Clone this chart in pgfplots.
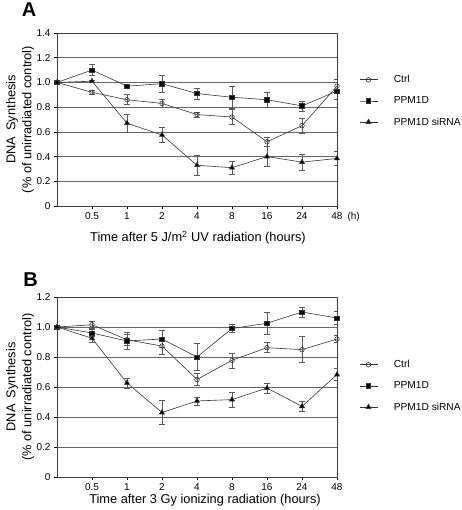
\documentclass[border=0pt]{standalone}
\usepackage{pgfplots}
\pgfplotsset{compat=1.18}
\usepackage{pgfplotstable}
\usepackage{fontspec}
\setmainfont{Liberation Sans}

\pgfplotstableread{
x y e
0 1.00 0
1 0.92 0.02
2 0.86 0.04
3 0.83 0.03
4 0.74 0.02
5 0.72 0.06
6 0.52 0.04
7 0.65 0.06
8 0.97 0.055
}\actrl
\pgfplotstableread{
x y e
0 1.00 0
1 1.10 0.043
2 0.97 0.016
3 0.99 0.07
4 0.91 0.045
5 0.88 0.09
6 0.86 0.06
7 0.81 0.04
8 0.93 0.07
}\appm
\pgfplotstableread{
x y e
0 1.00 0
1 1.01 0.01
2 0.67 0.07
3 0.575 0.06
4 0.33 0.08
5 0.31 0.05
6 0.40 0.08
7 0.355 0.065
8 0.385 0.058
}\asi
\pgfplotstableread{
x y e
0 1.00 0
1 1.015 0.022
2 0.915 0.035
3 0.873 0.055
4 0.65 0.04
5 0.778 0.05
6 0.862 0.033
7 0.849 0.087
8 0.92 0.025
}\bctrl
\pgfplotstableread{
x y e
0 1.00 0
1 0.96 0.022
2 0.907 0.055
3 0.92 0.055
4 0.80 0.09
5 0.99 0.025
6 1.025 0.072
7 1.10 0.033
8 1.06 0.045
}\bppm
\pgfplotstableread{
x y e
0 1.00 0
1 0.925 0.028
2 0.627 0.033
3 0.43 0.08
4 0.507 0.027
5 0.516 0.05
6 0.593 0.033
7 0.471 0.033
8 0.683 0.04
}\bsi

\newcommand{\labfont}{\fontsize{12.8bp}{16bp}\selectfont}
\pgfplotsset{
  panel/.style={
    scale only axis, width=280bp,
    xmin=0, xmax=8,
    xtick={1,2,3,4,5,6,7,8},
    tick align=outside, xtick pos=bottom, ytick pos=left,
    major tick length=3bp,
    tick style={black, line width=0.6bp},
    axis line style={black!75, line width=0.6bp},
    ymajorgrids, grid style={black!60, line width=0.6bp},
    /pgf/number format/assume math mode=true,
    tick label style={font=\fontsize{10bp}{12bp}\selectfont},
    every axis y label/.style={at={(rel axis cs:0,0.5)}, xshift=-37bp, rotate=90, anchor=center, align=center, font=\labfont},
    ylabel={DNA\enspace Synthesis\\(\% of unirradiated control)},
    legend cell align=left,
    legend style={draw=none, fill=none, inner sep=0pt, anchor=west,
      font=\fontsize{10.2bp}{12bp}\selectfont, row sep=12.5bp,
      nodes={inner xsep=0pt, inner ysep=0pt},
      /tikz/every odd column/.style={column sep=16bp}},
    legend image code/.code={\draw[##1,mark repeat=2,mark phase=2] plot coordinates {(0bp,0bp)(9bp,0bp)(18bp,0bp)};},
  },
  ser/.style={black!80, line width=0.6bp,
    error bars/y dir=both, error bars/y explicit,
    error bars/error bar style={black!65, line width=0.6bp},
    error bars/error mark options={rotate=90, mark size=3bp, black!65, line width=0.6bp}},
  sc/.style={ser, mark=o, mark size=2.3bp, mark options={fill=white, line width=0.6bp}},
  sp/.style={ser, mark=square*, mark size=2.2bp, mark options={fill=black}},
  st/.style={ser, mark=triangle*, mark size=2.9bp, mark options={fill=black}},
}

\begin{document}
\begin{tikzpicture}
\path[use as bounding box] (0,0) rectangle (462bp,-510bp);
\node[font=\bfseries\fontsize{20bp}{20bp}\selectfont, anchor=base] at (29bp,-16bp) {A};
\node[font=\bfseries\fontsize{20bp}{20bp}\selectfont, anchor=base] at (30.5bp,-286bp) {B};

\begin{axis}[panel, at={(57bp,-206bp)}, anchor=south west, height=173bp,
  ymin=0, ymax=1.4, ytick={0,0.2,0.4,0.6,0.8,1.0,1.2,1.4},
  yticklabels={0,0.2,0.4,0.6,0.8,1.0,1.2,1.4},
  xticklabels={0.5,1,2,4,8,16,24,{48\rlap{\hspace{5bp}(h)}}},
  every axis x label/.style={at={(rel axis cs:0.5,0)}, yshift=-32bp, xshift=1bp, anchor=center, font=\labfont},
  xlabel={Time after 5 J/m\textsuperscript{2}\ UV radiation (hours)},
  legend style={at={(1.0786,0.607)}}]
\addplot[sc] table[x=x, y=y, y error=e] {\actrl};
\addplot[sp] table[x=x, y=y, y error=e] {\appm};
\addplot[st] table[x=x, y=y, y error=e] {\asi};
\legend{Ctrl, PPM1D, PPM1D siRNA}
\end{axis}

\begin{axis}[panel, at={(57bp,-477bp)}, anchor=south west, height=180bp,
  ymin=0, ymax=1.2, ytick={0,0.2,0.4,0.6,0.8,1.0,1.2},
  yticklabels={0,0.2,0.4,0.6,0.8,1.0,1.2},
  xticklabels={0.5,1,2,4,8,16,24,48},
  every axis x label/.style={at={(rel axis cs:0.5,0)}, yshift=-23bp, xshift=8bp, anchor=center, font=\labfont},
  xlabel={Time after 3 Gy ionizing radiation (hours)},
  legend style={at={(1.0786,0.506)}}]
\addplot[sc] table[x=x, y=y, y error=e] {\bctrl};
\addplot[sp] table[x=x, y=y, y error=e] {\bppm};
\addplot[st] table[x=x, y=y, y error=e] {\bsi};
\legend{Ctrl, PPM1D, PPM1D siRNA}
\end{axis}
\end{tikzpicture}
\end{document}
